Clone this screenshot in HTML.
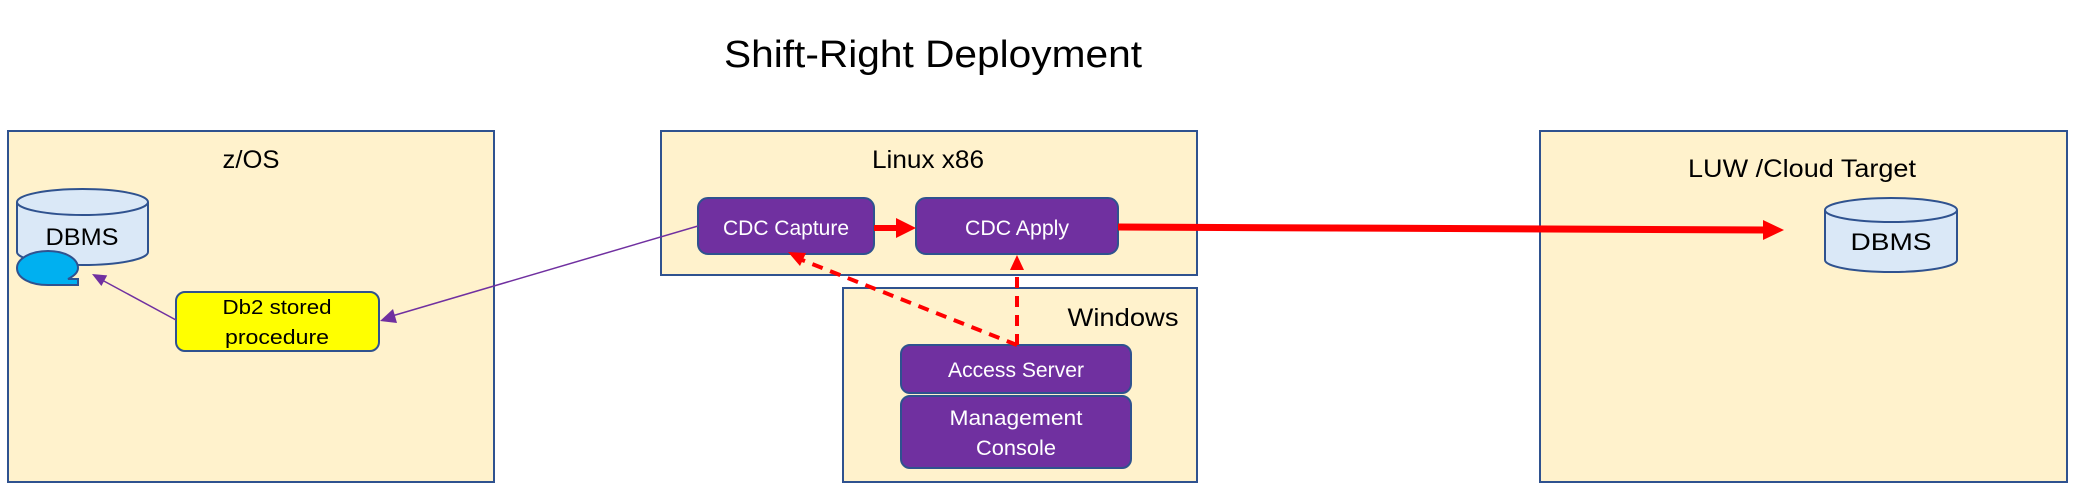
<!DOCTYPE html>
<html><head><meta charset="utf-8"><style>
html,body{margin:0;padding:0;background:#fff;width:2080px;height:502px;overflow:hidden}
svg{display:block}
text{font-family:"Liberation Sans",sans-serif}
</style></head><body>
<svg width="2080" height="502" viewBox="0 0 2080 502" xmlns="http://www.w3.org/2000/svg">
<text x="933" y="67" font-size="38" text-anchor="middle" textLength="418" lengthAdjust="spacingAndGlyphs" fill="#000">Shift-Right Deployment</text>

<g fill="#FFF2CC" stroke="#2F528F" stroke-width="2">
<rect x="8" y="131" width="486" height="351"/>
<rect x="661" y="131" width="536" height="144"/>
<rect x="843" y="288" width="354" height="194"/>
<rect x="1540" y="131" width="527" height="351"/>
</g>
<g font-size="25" fill="#000" text-anchor="middle">
<text x="251" y="168" textLength="57" lengthAdjust="spacingAndGlyphs">z/OS</text>
<text x="928" y="168" textLength="112" lengthAdjust="spacingAndGlyphs">Linux x86</text>
<text x="1123" y="326" textLength="111" lengthAdjust="spacingAndGlyphs">Windows</text>
<text x="1802" y="177" textLength="228" lengthAdjust="spacingAndGlyphs">LUW /Cloud Target</text>
</g>

<g fill="#DAE8F7" stroke="#2F528F" stroke-width="2">
<path d="M17,202 L17,252 A65.5,13 0 0 0 148,252 L148,202"/>
<ellipse cx="82.5" cy="202" rx="65.5" ry="13"/>
</g>
<text x="82" y="245" font-size="24" text-anchor="middle" textLength="73" lengthAdjust="spacingAndGlyphs">DBMS</text>
<path d="M48,251 C30,251 17,259 17,268 C17,278 30,285 48,285 L78,285 L78,279 L68,279 C74,276 78,272 78,268 C78,259 66,251 48,251 Z" fill="#00B0F0" stroke="#2F528F" stroke-width="2"/>

<g fill="#DAE8F7" stroke="#2F528F" stroke-width="2">
<path d="M1825,210 L1825,260 A66,12 0 0 0 1957,260 L1957,210"/>
<ellipse cx="1891" cy="210" rx="66" ry="12"/>
</g>
<text x="1891" y="250" font-size="24" text-anchor="middle" textLength="81" lengthAdjust="spacingAndGlyphs">DBMS</text>

<rect x="176" y="292" width="203" height="59" rx="9" fill="#FFFF00" stroke="#2F528F" stroke-width="2"/>
<text x="277" y="314" font-size="20" text-anchor="middle" textLength="109" lengthAdjust="spacingAndGlyphs">Db2 stored</text>
<text x="277" y="344" font-size="20" text-anchor="middle" textLength="104" lengthAdjust="spacingAndGlyphs">procedure</text>

<g fill="#7030A0" stroke="#2F528F" stroke-width="2">
<rect x="698" y="198" width="176" height="56" rx="10"/>
<rect x="916" y="198" width="202" height="56" rx="10"/>
<rect x="901" y="345" width="230" height="48" rx="9"/>
<rect x="901" y="396" width="230" height="72" rx="9"/>
</g>
<g fill="#fff" font-size="21" text-anchor="middle">
<text x="786" y="235" textLength="126" lengthAdjust="spacingAndGlyphs">CDC Capture</text>
<text x="1017" y="235" textLength="104" lengthAdjust="spacingAndGlyphs">CDC Apply</text>
<text x="1016" y="377" textLength="136" lengthAdjust="spacingAndGlyphs">Access Server</text>
<text x="1016" y="425" textLength="133" lengthAdjust="spacingAndGlyphs">Management</text>
<text x="1016" y="455" textLength="80" lengthAdjust="spacingAndGlyphs">Console</text>
</g>

<line x1="874" y1="228" x2="898" y2="228" stroke="#FF0000" stroke-width="6"/>
<polygon points="896,218 916,228 896,238" fill="#FF0000"/>
<line x1="1118" y1="227" x2="1766" y2="230" stroke="#FF0000" stroke-width="7"/>
<polygon points="1763,220 1784,230 1763,240" fill="#FF0000"/>

<line x1="1017" y1="345" x2="1017" y2="268" stroke="#FF0000" stroke-width="4" stroke-dasharray="11,8"/>
<polygon points="1010,270 1017,255 1024,270" fill="#FF0000"/>
<line x1="1017" y1="345" x2="797" y2="258" stroke="#FF0000" stroke-width="4" stroke-dasharray="11,8"/>
<polygon points="788,252 806,253 800,266" fill="#FF0000"/>

<line x1="698" y1="226" x2="392" y2="316" stroke="#7030A0" stroke-width="1.5"/>
<polygon points="380,321 393,309 397,323" fill="#7030A0"/>
<line x1="176" y1="320" x2="102" y2="280" stroke="#7030A0" stroke-width="1.5"/>
<polygon points="92,274 107.2,275.4 101.4,286" fill="#7030A0"/>
</svg>
</body></html>
